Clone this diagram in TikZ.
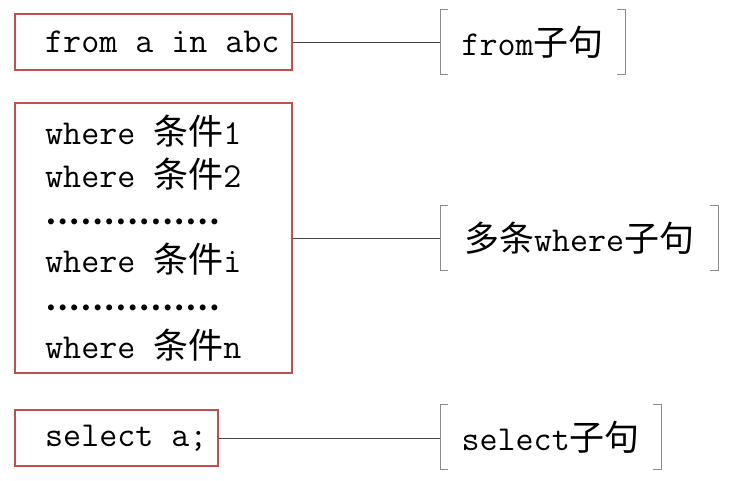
\documentclass[tikz,border=0pt]{standalone}
\usepackage{fontspec}
\newfontfamily\cjk{Noto Sans CJK SC}
\usetikzlibrary{positioning,calc}
\definecolor{boxred}{HTML}{C0504D}
\definecolor{linegray}{HTML}{454545}
\definecolor{brackgray}{HTML}{8C8C8C}
% a row of sixteen centred dots
\newcommand\dotrow{\hbox{\leaders\hbox to 11.67pt{\hss\raisebox{2.5pt}{\fontsize{23}{23}\selectfont\textbullet}\hss}\hskip 186.7pt}}

\begin{document}
\begin{tikzpicture}[x=1pt, y=-1pt,
  codebox/.style={draw=boxred, line width=1.6pt},
  code/.style={font=\fontsize{35}{42.8}\selectfont\ttfamily, inner sep=0pt, align=left},
  tag/.style={font=\fontsize{35}{42.8}\selectfont\ttfamily, minimum height=65pt, inner xsep=18pt},
  link/.style={draw=linegray, line width=0.9pt},
  brack/.style={draw=brackgray, line width=0.9pt}
]
\useasboundingbox (0,0) rectangle (734,481);

% query clauses
\node[codebox, minimum width=277pt, minimum height=56pt] (fromBox) at (153.5,42) {};
\node[code, anchor=west] (fromCode) at (45,42) {from a in abc};

\node[codebox, minimum width=277pt, minimum height=270pt] (whereBox) at (153.5,238) {};
\node[code, anchor=west] (whereCode) at (45,238)
  {where {\cjk 条件}1\\where {\cjk 条件}2\\\dotrow\\where {\cjk 条件}i\\\dotrow\\where {\cjk 条件}n};

\node[codebox, minimum width=203pt, minimum height=56pt] (selectBox) at (116.5,438) {};
\node[code, anchor=west] (selectCode) at (45,438) {select a;};

% bracketed names
\node[tag, anchor=west, minimum width=185pt] (fromTag) at (440,42) {from{\cjk 子句}};
\node[tag, anchor=west, minimum width=278pt] (whereTag) at (440,238) {{\cjk 多条}where{\cjk 子句}};
\node[tag, anchor=west, minimum width=221pt] (selectTag) at (440,437) {select{\cjk 子句}};

\draw[brack] ([xshift=8pt]fromTag.north west) -| (fromTag.south west) -- ++(8,0);
\draw[brack] ([xshift=-8pt]fromTag.north east) -| (fromTag.south east) -- ++(-8,0);
\draw[brack] ([xshift=8pt]whereTag.north west) -| (whereTag.south west) -- ++(8,0);
\draw[brack] ([xshift=-8pt]whereTag.north east) -| (whereTag.south east) -- ++(-8,0);
\draw[brack] ([xshift=8pt]selectTag.north west) -| (selectTag.south west) -- ++(8,0);
\draw[brack] ([xshift=-8pt]selectTag.north east) -| (selectTag.south east) -- ++(-8,0);

% links
\draw[link] (fromBox.east) -- (fromTag.west);
\draw[link] (whereBox.east) -- (whereTag.west);
\draw[link] (selectBox.east) -- (selectBox.east -| selectTag.west);
\end{tikzpicture}
\end{document}
